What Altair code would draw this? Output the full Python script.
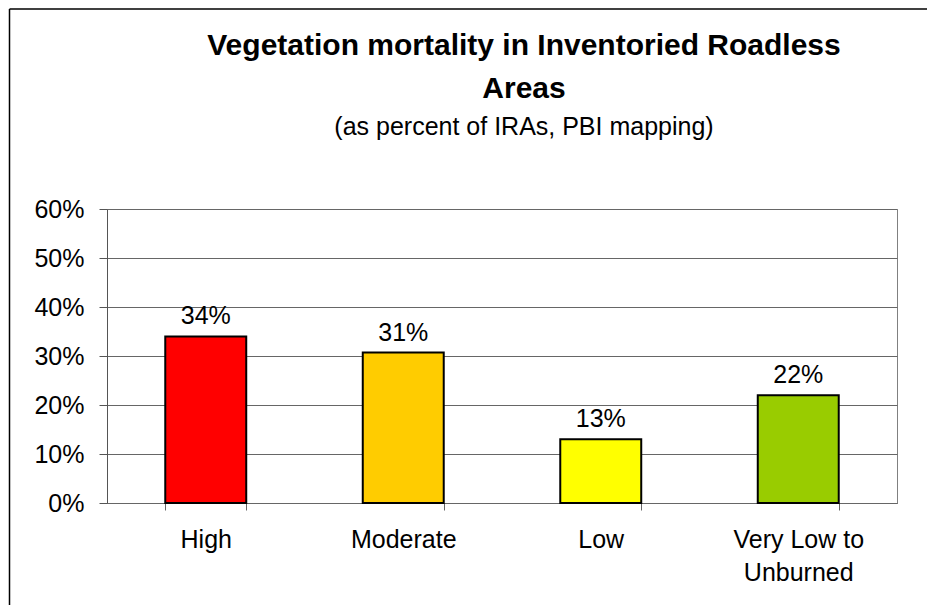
import altair as alt
import pandas as pd

categories = ["High", "Moderate", "Low", "Very Low to Unburned"]
values = [0.34, 0.307, 0.13, 0.22]
colors = ["#FF0000", "#FFCC00", "#FFFF00", "#99CC00"]

df = pd.DataFrame({"cat": categories, "val": values})

FONT = "Liberation Sans"
W, H = 790, 294

xenc = alt.X(
    "cat:N",
    sort=None,
    title=None,
    scale=alt.Scale(paddingInner=0.59, paddingOuter=0.295),
    axis=alt.Axis(
        labelAngle=0,
        tickBand="extent",
        tickSize=7,
        tickColor="#666666",
        domainColor="#666666",
        labelFontSize=25,
        labelFont=FONT,
        labelColor="black",
        labelPadding=17,
        labelLineHeight=33,
        labelExpr="datum.label == 'Very Low to Unburned' ? ['Very Low to', 'Unburned'] : datum.label",
        grid=False,
    ),
)

yenc = alt.Y(
    "val:Q",
    title=None,
    scale=alt.Scale(domain=[0, 0.6], nice=False),
    axis=alt.Axis(
        values=[0, 0.1, 0.2, 0.3, 0.4, 0.5, 0.6],
        format=".0%",
        tickSize=8,
        tickColor="#555555",
        domainColor="#555555",
        gridColor="#666666",
        gridWidth=1,
        labelFontSize=25,
        labelFont=FONT,
        labelColor="black",
        labelPadding=15,
    ),
)

bars = alt.Chart(df).mark_bar(stroke="black", strokeWidth=2).encode(
    x=xenc,
    y=yenc,
    color=alt.Color("cat:N", sort=None, scale=alt.Scale(domain=categories, range=colors), legend=None),
)

labels = alt.Chart(df).mark_text(
    font=FONT, fontSize=25, color="black", baseline="alphabetic", dy=-12
).encode(
    x=alt.X("cat:N", sort=None),
    y="val:Q",
    text=alt.Text("val:Q", format=".0%"),
)

frame_df = pd.DataFrame({"k": ["border"]})
left_border = alt.Chart(frame_df).mark_rule(color="black", strokeWidth=1.5).encode(
    x=alt.value(-97.5), y=alt.value(-200), y2=alt.value(396)
)
top_border = alt.Chart(frame_df).mark_rule(color="black", strokeWidth=1.5).encode(
    x=alt.value(-97.5), x2=alt.value(820), y=alt.value(-200)
)

chart = alt.layer(bars, labels, left_border, top_border).properties(
    width=W,
    height=H,
    padding=0,
    background="white",
    title=alt.TitleParams(
        text=["Vegetation mortality in Inventoried Roadless", "Areas"],
        subtitle="(as percent of IRAs, PBI mapping)",
        anchor="middle",
        frame="group",
        dx=22,
        font=FONT,
        fontSize=30,
        fontWeight="bold",
        color="black",
        lineHeight=43,
        subtitleFont=FONT,
        subtitleFontSize=25,
        subtitleColor="black",
        subtitlePadding=11,
        offset=-132,
    ),
).configure_view(stroke="#808080", strokeWidth=1)

chart.save("out.html", embed_options={"renderer": "svg", "actions": False})
